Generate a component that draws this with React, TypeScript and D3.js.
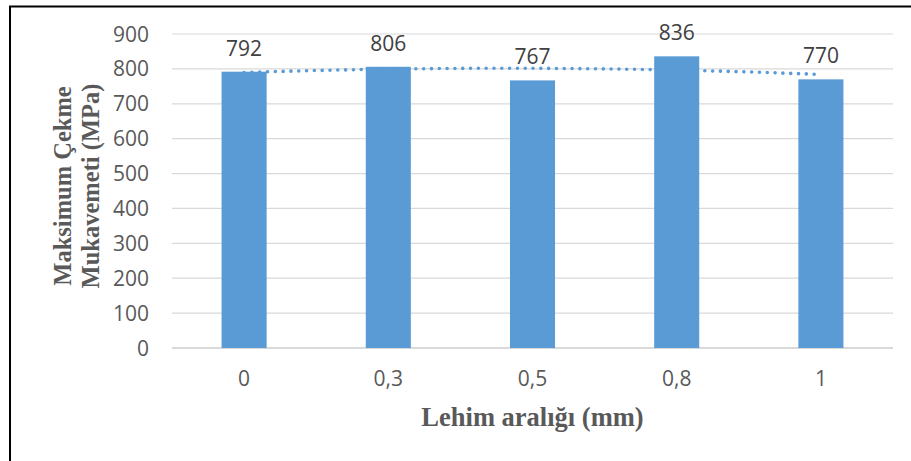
import React from "react";
import * as d3 from "d3";

const categories = ["0", "0,3", "0,5", "0,8", "1"];
const values = [792, 806, 767, 836, 770];
const yTicks = [0, 100, 200, 300, 400, 500, 600, 700, 800, 900];
const xTitle = "Lehim aralığı (mm)";
const yTitleLines = ["Maksimum Çekme", "Mukavemeti (MPa)"];

const W = 911;
const H = 461;
const plot = { left: 172, right: 893, top: 34, bottom: 348 };
const barColor = "#5B9BD5";
const textColor = "#595959";
const gridColor = "#D9D9D9";

// quadratic least-squares trendline (Excel polynomial, order 2) on x = 1..n
function polyfit2(ys: number[]) {
  const xs = ys.map((_, i) => i + 1);
  const s = (f: (x: number, y: number) => number) =>
    xs.reduce((acc, x, i) => acc + f(x, ys[i]), 0);
  const n = xs.length;
  const A = [
    [n, s((x) => x), s((x) => x * x)],
    [s((x) => x), s((x) => x * x), s((x) => x ** 3)],
    [s((x) => x * x), s((x) => x ** 3), s((x) => x ** 4)],
  ];
  const b = [s((_, y) => y), s((x, y) => x * y), s((x, y) => x * x * y)];
  const M = A.map((r, i) => [...r, b[i]]);
  for (let i = 0; i < 3; i++) {
    for (let j = i + 1; j < 3; j++) {
      const f = M[j][i] / M[i][i];
      for (let k = i; k < 4; k++) M[j][k] -= f * M[i][k];
    }
  }
  const c = [0, 0, 0];
  for (let i = 2; i >= 0; i--) {
    let v = M[i][3];
    for (let k = i + 1; k < 3; k++) v -= M[i][k] * c[k];
    c[i] = v / M[i][i];
  }
  return (x: number) => c[0] + c[1] * x + c[2] * x * x;
}

export default function App() {
  const x = d3.scaleBand<string>().domain(categories).range([plot.left, plot.right]).padding(0);
  const y = d3.scaleLinear().domain([0, 900]).range([plot.bottom, plot.top]);
  const step = x.bandwidth();
  const barW = step / 3.2;
  const center = (c: string) => (x(c) as number) + step / 2;

  const trend = polyfit2(values);
  const samples = d3.range(0, categories.length - 1 + 1e-9, 0.05);
  const line = d3
    .line<number>()
    .x((t) => center(categories[0]) + t * step)
    .y((t) => y(trend(t + 1)))
    .curve(d3.curveLinear);

  const tickFont = "'Open Sans', 'Noto Sans', sans-serif";
  const titleFont = "'Liberation Serif', 'Times New Roman', serif";

  return (
    <svg
      width={W}
      height={H}
      style={{ position: "absolute", left: 0, top: 0, background: "#fff" }}
    >
      <rect x={0} y={0} width={W} height={H} fill="#fff" />
      <rect x={10} y={6.5} width={W + 20} height={H + 20} fill="none" stroke="#000" strokeWidth={2} />

      {yTicks.map((t) => (
        <line
          key={"g" + t}
          x1={plot.left}
          x2={plot.right}
          y1={y(t)}
          y2={y(t)}
          stroke={gridColor}
          strokeWidth={t === 0 ? 1.8 : 1.2}
        />
      ))}

      {categories.map((c, i) => (
        <rect
          key={"b" + c}
          x={center(c) - barW / 2}
          y={y(values[i])}
          width={barW}
          height={y(0) - y(values[i])}
          fill={barColor}
        />
      ))}

      <path
        d={line(samples) as string}
        fill="none"
        stroke={barColor}
        strokeWidth={3.6}
        strokeLinecap="round"
        strokeDasharray="0.01 7.8"
      />

      {yTicks.map((t) => (
        <text
          key={"yt" + t}
          x={149}
          y={y(t)}
          dy="0.36em"
          textAnchor="end"
          fontFamily={tickFont}
          fontSize={21}
          fill={textColor}
        >
          {t}
        </text>
      ))}

      {categories.map((c) => (
        <text
          key={"xt" + c}
          x={center(c)}
          y={386}
          textAnchor="middle"
          fontFamily={tickFont}
          fontSize={21}
          fill={textColor}
        >
          {c}
        </text>
      ))}

      {categories.map((c, i) => (
        <text
          key={"dl" + c}
          x={center(c)}
          y={y(values[i]) - 16}
          textAnchor="middle"
          fontFamily={tickFont}
          fontSize={21}
          fill="#404040"
        >
          {values[i]}
        </text>
      ))}

      <text
        x={(plot.left + plot.right) / 2}
        y={426}
        textAnchor="middle"
        fontFamily={titleFont}
        fontWeight="bold"
        fontSize={26.5}
        fill={textColor}
      >
        {xTitle}
      </text>

      <text
        transform={`translate(71,186) rotate(-90)`}
        textAnchor="middle"
        fontFamily={titleFont}
        fontWeight="bold"
        fontSize={24.5}
        fill={textColor}
      >
        {yTitleLines.map((l, i) => (
          <tspan key={l} x={0} y={i * 28}>
            {l}
          </tspan>
        ))}
      </text>
    </svg>
  );
}
